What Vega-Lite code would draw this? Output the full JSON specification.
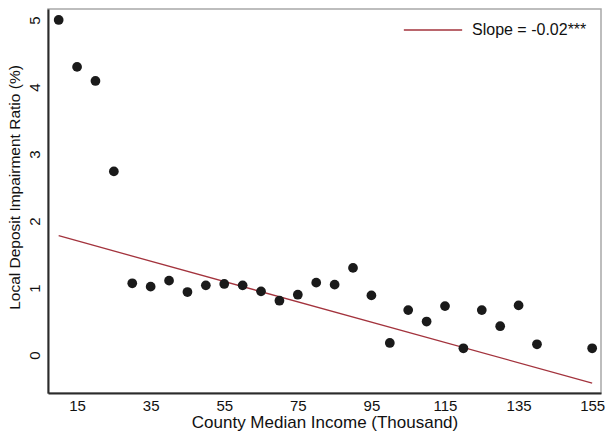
{
  "$schema": "https://vega.github.io/schema/vega-lite/v6.json",
  "autosize": "none",
  "width": 553,
  "height": 384,
  "padding": {"left": 48, "top": 9, "right": 10, "bottom": 41},
  "background": "white",
  "datasets": {
    "bins": [
      {"income": 10, "ratio": 5.0},
      {"income": 15, "ratio": 4.3},
      {"income": 20, "ratio": 4.09},
      {"income": 25, "ratio": 2.74},
      {"income": 30, "ratio": 1.07},
      {"income": 35, "ratio": 1.02},
      {"income": 40, "ratio": 1.11},
      {"income": 45, "ratio": 0.94},
      {"income": 50, "ratio": 1.04},
      {"income": 55, "ratio": 1.06},
      {"income": 60, "ratio": 1.04},
      {"income": 65, "ratio": 0.95},
      {"income": 70, "ratio": 0.81},
      {"income": 75, "ratio": 0.9},
      {"income": 80, "ratio": 1.08},
      {"income": 85, "ratio": 1.05},
      {"income": 90, "ratio": 1.3},
      {"income": 95, "ratio": 0.89},
      {"income": 100, "ratio": 0.18},
      {"income": 105, "ratio": 0.67},
      {"income": 110, "ratio": 0.5},
      {"income": 115, "ratio": 0.73},
      {"income": 120, "ratio": 0.1},
      {"income": 125, "ratio": 0.67},
      {"income": 130, "ratio": 0.43},
      {"income": 135, "ratio": 0.74},
      {"income": 140, "ratio": 0.16},
      {"income": 155, "ratio": 0.1}
    ],
    "fit": [
      {"income": 10, "ratio": 1.78, "label": "Slope = -0.02***"},
      {"income": 155, "ratio": -0.42, "label": "Slope = -0.02***"}
    ]
  },
  "encoding": {
    "x": {
      "field": "income",
      "type": "quantitative",
      "scale": {"domain": [7.1, 157.4], "nice": false, "zero": false},
      "axis": {
        "title": "County Median Income (Thousand)",
        "values": [15, 35, 55, 75, 95, 115, 135, 155],
        "grid": false,
        "ticks": false,
        "labelPadding": 5,
        "titleFontSize": 17,
        "titleBaseline": "alphabetic",
        "titleY": 34,
        "labelFlush": false
      }
    },
    "y": {
      "field": "ratio",
      "type": "quantitative",
      "scale": {"domain": [-0.567, 5.164], "nice": false, "zero": false},
      "axis": {
        "title": "Local Deposit Impairment Ratio (%)",
        "values": [0, 1, 2, 3, 4, 5],
        "grid": false,
        "ticks": false,
        "labelAngle": -90,
        "labelPadding": 6,
        "titlePadding": 5,
        "titleFontSize": 15.5,
        "titleY": 178
      }
    }
  },
  "layer": [
    {
      "data": {"name": "fit"},
      "mark": {"type": "line", "strokeWidth": 1.3},
      "encoding": {
        "color": {
          "field": "label",
          "type": "nominal",
          "scale": {"range": ["#a3333d"]},
          "legend": {
            "title": null,
            "orient": "none",
            "legendX": 355,
            "legendY": -9,
            "symbolType": "stroke",
            "symbolSize": 3400,
            "symbolStrokeWidth": 1.3,
            "labelFontSize": 16,
            "labelOffset": 9,
            "labelFont": "Liberation Sans",
            "labelColor": "#111"
          }
        }
      }
    },
    {
      "data": {"name": "bins"},
      "mark": {"type": "circle", "size": 95, "color": "#1a1a1a", "opacity": 1}
    }
  ],
  "config": {
    "font": "Liberation Sans",
    "view": {"stroke": "#a8a8a8", "strokeWidth": 1.5},
    "axis": {
      "domainColor": "#2b2b2b",
      "domainWidth": 2,
      "labelFontSize": 15,
      "titleFontSize": 15,
      "titleFontWeight": "normal",
      "labelColor": "#111",
      "titleColor": "#111"
    }
  }
}
